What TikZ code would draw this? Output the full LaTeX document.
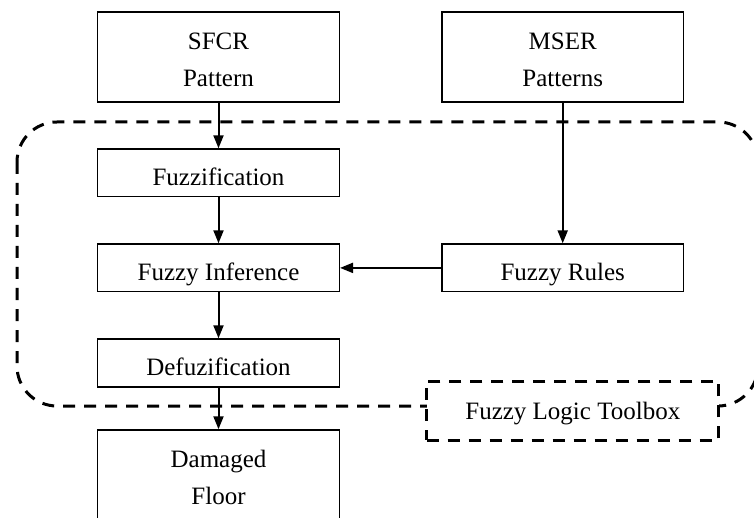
\documentclass[tikz,border=0pt]{standalone}
\usepackage{fontspec}
\setmainfont{Liberation Serif}
\usetikzlibrary{arrows.meta}
\newcommand{\twolines}[3][-4pt]{\raisebox{#1}[\height][\depth]{\begin{tabular}{@{}c@{}}#2\\#3\end{tabular}}}
\tikzset{
  box/.style={draw, line width=1.5pt, fill=white, minimum width=241.6pt, inner sep=0pt,
    font=\fontsize{25}{37}\selectfont},
  tallbox/.style={box, minimum height=89.7pt},
  flatbox/.style={box, minimum height=47.7pt, text height=30pt, text depth=4pt},
  conn/.style={line width=2pt, -{Triangle[length=13pt,width=10pt]}},
  dashline/.style={line width=3pt, dash pattern=on 12pt off 9pt},
}
\begin{document}
\begin{tikzpicture}[x=1pt,y=-1pt]
\useasboundingbox (0,0) rectangle (754,518);
\clip (0,0) rectangle (754,518);
% dashed toolbox region
\draw[dashline, rounded corners=40pt] (17,122) rectangle (758,406);
\node[tallbox] (sfcr) at (218.5,57) {\twolines{SFCR}{Pattern}};
\node[tallbox] (mser) at (562.7,57) {\twolines{MSER}{Patterns}};
\node[flatbox] (fuzz) at (218.5,172.9) {Fuzzification};
\node[flatbox] (inf) at (218.5,267.9) {Fuzzy Inference};
\node[flatbox] (rules) at (562.7,267.9) {Fuzzy Rules};
\node[flatbox] (defuz) at (218.5,362.9) {Defuzification};
\node[box, minimum height=100pt] (dam) at (218.5,480) {\twolines[1pt]{Damaged}{Floor}};
\node[draw, dashline, fill=white, minimum width=292.3pt, minimum height=59pt,
  inner sep=0pt, text height=21pt, text depth=4pt,
  font=\fontsize{25}{37}\selectfont] (tool) at (572.8,410.5) {Fuzzy Logic Toolbox};
\draw[conn] (sfcr) -- (fuzz);
\draw[conn] (fuzz) -- (inf);
\draw[conn] (inf) -- (defuz);
\draw[conn] (defuz) -- (dam);
\draw[conn] (mser) -- (rules);
\draw[conn] (rules) -- (inf);
\end{tikzpicture}
\end{document}
